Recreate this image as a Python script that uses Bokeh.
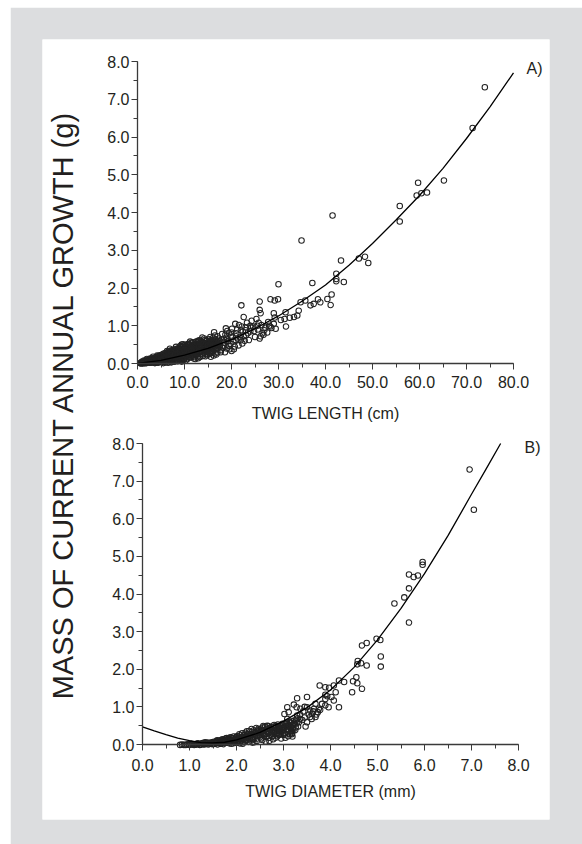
import math
from bokeh.plotting import figure
from bokeh.models import Range1d, LinearAxis, SingleIntervalTicker, PrintfTickFormatter, Label
from bokeh.embed import file_html
from bokeh.resources import INLINE

# ---------------- DATA ----------------
# Panel A: twig length (cm) vs mass of current annual growth (g)
a_len = [
    0.6, 0.8, 1.0, 1.1, 1.3, 1.5, 1.6, 1.8, 2.0, 2.1, 2.3, 2.5, 2.6, 2.8, 3.0, 3.0, 2.2, 1.7, 2.7, 3.2,
    3.3, 3.5, 3.6, 3.8, 4.0, 4.1, 4.3, 4.5, 4.6, 4.8, 5.0, 5.1, 5.3, 5.5, 5.6, 5.8, 6.0, 3.4, 3.9, 4.4, 4.9, 5.4, 5.9, 4.2, 5.2,
    6.1, 6.2, 6.4, 6.5, 6.7, 6.8, 7.0, 7.1, 7.3, 7.4, 7.6, 7.8, 8.0, 8.1, 8.3, 8.5, 8.6, 8.8, 9.0, 6.3, 6.9, 7.5, 8.2, 8.9, 7.2, 6.6, 8.4, 9.1,
    9.2, 9.3, 9.5, 9.6, 9.8, 10.0, 10.1, 10.3, 10.4, 10.6, 10.8, 11.0, 11.1, 11.3, 11.5, 11.6, 11.8, 12.0, 9.4, 9.9, 10.5, 11.2, 11.9, 10.2, 10.9, 11.7, 9.7, 12.1,
    12.2, 12.4, 12.5, 12.7, 12.9, 13.0, 13.2, 13.4, 13.5, 13.7, 13.9, 14.0, 14.2, 14.4, 14.5, 14.7, 14.9, 15.0, 12.6, 13.3, 13.8, 14.3, 14.8, 12.3, 13.1, 14.6,
    15.2, 15.4, 15.5, 15.7, 15.9, 16.0, 16.2, 16.4, 16.5, 16.7, 16.9, 17.0, 17.3, 17.5, 17.8, 18.0, 15.6, 16.3, 16.8, 17.2, 17.6, 18.2,
    18.4, 18.6, 18.9, 19.1, 19.4, 19.6, 19.9, 20.1, 20.4, 20.7, 21.0, 21.3, 21.6, 22.0, 22.3, 22.6, 23.0, 23.3, 23.7, 24.0, 18.8, 19.3, 20.0, 20.8, 21.5, 22.2, 23.1, 24.3,
    24.6, 25.0, 25.3, 25.6, 26.0, 26.4, 26.8, 27.2, 27.6, 28.0, 28.5, 29.0, 29.4, 25.8, 26.2, 27.0, 28.3, 24.8, 25.5, 26.6, 27.8, 29.2, 30.5,
    73.9, 71.3, 59.7, 65.2, 59.4, 60.4, 61.6, 55.8, 55.8, 41.5, 34.9, 43.3, 47.1, 48.4, 49.1, 42.3, 42.3, 42.3, 43.9, 37.2,
    30.0, 22.1, 26.0, 28.3, 29.2, 29.9, 26.0, 26.2, 29.0, 31.5, 31.3, 31.6, 32.4, 33.3, 34.0, 34.3, 34.7, 35.7, 36.8, 37.5,
    38.4, 38.9, 40.4, 41.3, 41.1, 22.6,
]
a_mass = [
    0.01, 0.02, 0.01, 0.03, 0.02, 0.04, 0.01, 0.05, 0.03, 0.07, 0.05, 0.02, 0.09, 0.06, 0.04, 0.11, 0.10, 0.07, 0.13, 0.08,
    0.03, 0.12, 0.07, 0.16, 0.05, 0.10, 0.19, 0.08, 0.14, 0.22, 0.04, 0.12, 0.17, 0.26, 0.09, 0.20, 0.14, 0.09, 0.02, 0.04, 0.07, 0.04, 0.28, 0.15, 0.23,
    0.06, 0.22, 0.11, 0.31, 0.17, 0.05, 0.26, 0.13, 0.35, 0.08, 0.20, 0.30, 0.12, 0.38, 0.22, 0.07, 0.28, 0.41, 0.17, 0.33, 0.39, 0.27, 0.44, 0.10, 0.03, 0.25, 0.34, 0.46,
    0.24, 0.37, 0.13, 0.44, 0.30, 0.20, 0.49, 0.08, 0.35, 0.26, 0.52, 0.15, 0.41, 0.31, 0.55, 0.22, 0.45, 0.36, 0.05, 0.12, 0.43, 0.58, 0.18, 0.29, 0.34, 0.50, 0.51, 0.27,
    0.48, 0.21, 0.58, 0.39, 0.14, 0.52, 0.30, 0.62, 0.44, 0.24, 0.56, 0.35, 0.66, 0.19, 0.47, 0.60, 0.30, 0.41, 0.31, 0.17, 0.69, 0.53, 0.22, 0.12, 0.61, 0.38,
    0.55, 0.26, 0.70, 0.46, 0.33, 0.62, 0.21, 0.52, 0.74, 0.38, 0.58, 0.29, 0.66, 0.45, 0.35, 0.78, 0.18, 0.83, 0.24, 0.50, 0.60, 0.42,
    0.55, 0.30, 0.68, 0.86, 0.47, 0.38, 0.74, 0.92, 0.58, 0.45, 0.80, 0.66, 1.02, 0.88, 0.53, 0.72, 0.96, 1.08, 0.62, 0.85, 0.93, 0.60, 0.33, 1.05, 0.48, 0.98, 0.75, 1.13,
    0.98, 0.70, 1.18, 0.90, 0.66, 1.02, 0.76, 0.95, 0.82, 1.00, 0.94, 1.05, 0.92, 1.08, 0.72, 0.88, 0.98, 0.86, 1.00, 0.80, 1.10, 1.22, 1.15,
    7.32, 6.24, 4.79, 4.85, 4.45, 4.51, 4.53, 4.17, 3.76, 3.92, 3.26, 2.73, 2.78, 2.83, 2.66, 2.38, 2.24, 2.18, 2.16, 2.13,
    2.10, 1.54, 1.64, 1.70, 1.67, 1.70, 1.42, 1.33, 1.33, 1.36, 1.18, 0.98, 1.21, 1.23, 1.27, 1.40, 1.62, 1.67, 1.54, 1.58,
    1.70, 1.62, 1.71, 1.83, 1.55, 1.23,
]
# more twigs in the dense cloud of panel A
a_len2 = [
    0.7, 0.9, 1.2, 1.4, 1.9, 2.4, 2.9, 3.1, 3.7, 3.7, 2.0, 1.4, 2.6, 3.3,
    4.1, 4.2, 4.5, 4.7, 4.8, 5.0, 5.2, 5.4, 5.5, 5.7, 5.8, 6.0, 6.0, 6.2, 6.4, 6.5, 6.6, 6.8, 6.9, 7.0, 7.1, 7.3, 7.4, 7.6, 7.7, 7.8, 7.9, 8.0,
    8.1, 8.2, 8.4, 8.5, 8.7, 8.8, 8.9, 9.0, 9.1, 9.3, 9.4, 9.5, 9.7, 9.8, 9.9, 10.0, 10.2, 10.3, 10.5, 10.6, 10.7, 10.9, 11.0, 11.1, 11.3, 11.4, 11.5, 11.7, 11.8, 11.9, 12.0,
    12.1, 12.3, 12.4, 12.6, 12.8, 12.9, 13.0, 13.2, 13.3, 13.5, 13.6, 13.8, 13.9, 14.1, 14.2, 14.4, 14.5, 14.7, 14.8, 15.0, 15.1, 15.3, 15.4, 15.6, 15.8, 16.0, 16.1, 16.3, 16.5, 16.6, 16.8, 17.0, 17.1, 17.4, 17.7, 17.9,
    18.3, 18.7, 19.0, 19.2, 19.5, 19.8, 20.2, 20.5, 20.9, 21.2, 21.8, 22.4, 22.8, 23.5, 24.2,
]
a_mass2 = [
    0.0, 0.03, 0.0, 0.05, 0.01, 0.08, 0.02, 0.14, 0.01, 0.13, 0.12, 0.08, 0.04, 0.18,
    0.03, 0.21, 0.17, 0.06, 0.11, 0.18, 0.08, 0.15, 0.01, 0.24, 0.12, 0.03, 0.25, 0.16, 0.28, 0.02, 0.19, 0.34, 0.14, 0.08, 0.22, 0.17, 0.29, 0.10, 0.37, 0.24, 0.05, 0.33,
    0.19, 0.09, 0.26, 0.40, 0.14, 0.31, 0.23, 0.38, 0.11, 0.29, 0.45, 0.20, 0.35, 0.09, 0.42, 0.28, 0.16, 0.46, 0.33, 0.12, 0.40, 0.22, 0.50, 0.29, 0.17, 0.44, 0.36, 0.24, 0.56, 0.41, 0.13,
    0.33, 0.52, 0.27, 0.45, 0.19, 0.60, 0.37, 0.48, 0.25, 0.57, 0.33, 0.43, 0.20, 0.50, 0.28, 0.62, 0.37, 0.46, 0.25, 0.55, 0.34, 0.64, 0.42, 0.51, 0.28, 0.46, 0.68, 0.36, 0.57, 0.27, 0.48, 0.72, 0.40, 0.55, 0.30, 0.63,
    0.47, 0.76, 0.40, 0.58, 0.80, 0.52, 0.70, 0.38, 0.62, 0.90, 0.70, 0.85, 0.60, 0.80, 0.95,
]
a_len3 = [
    1.0, 1.6, 2.2, 2.7, 3.4, 3.9, 4.4, 4.9, 5.3, 5.6, 5.9, 6.3, 6.7, 7.0, 7.2, 7.5, 7.8, 8.2, 8.6, 8.9,
    9.2, 9.5, 9.8, 10.1, 10.4, 10.7, 11.0, 11.2, 11.5, 11.8, 12.1, 12.4, 12.7, 13.0, 13.3, 13.6, 13.9, 14.2, 14.5, 14.8,
    15.1, 15.4, 15.7, 16.0, 16.3, 16.6, 16.9, 17.2, 17.5, 5.0, 6.2, 7.4, 8.6, 9.8, 11.0, 12.2, 13.4, 14.6, 15.8, 17.0,
    4.6, 5.8, 7.0, 8.2, 9.4, 10.6, 11.8, 13.0, 14.2, 15.4, 16.6, 19.0, 20.0, 21.0, 22.0, 23.0, 24.0,
]
a_mass3 = [
    0.05, 0.02, 0.04, 0.11, 0.06, 0.09, 0.02, 0.16, 0.10, 0.19, 0.07, 0.23, 0.10, 0.18, 0.30, 0.14, 0.21, 0.32, 0.18, 0.25,
    0.34, 0.10, 0.26, 0.38, 0.21, 0.31, 0.42, 0.26, 0.19, 0.33, 0.46, 0.22, 0.35, 0.28, 0.54, 0.40, 0.30, 0.44, 0.52, 0.35,
    0.47, 0.58, 0.36, 0.52, 0.45, 0.64, 0.40, 0.60, 0.50, 0.12, 0.08, 0.05, 0.06, 0.16, 0.25, 0.40, 0.43, 0.32, 0.60, 0.52,
    0.20, 0.18, 0.32, 0.36, 0.50, 0.50, 0.30, 0.47, 0.40, 0.30, 0.40, 0.65, 0.82, 0.72, 0.62, 0.88, 1.00,
]
a_len4 = [
    2.5, 3.6, 4.3, 5.1, 5.7, 6.4, 7.1, 7.7, 8.3, 8.8, 9.3, 9.9, 10.4, 10.9, 11.4, 11.9, 12.5, 13.1, 13.6, 14.1,
    14.6, 15.2, 15.7, 16.2, 3.0, 4.0, 5.0, 6.0, 7.0, 8.0, 9.0, 10.0, 11.0, 12.0, 13.0, 14.0, 15.0, 16.0,
]
a_mass4 = [
    0.06, 0.10, 0.13, 0.20, 0.16, 0.21, 0.29, 0.19, 0.27, 0.36, 0.23, 0.33, 0.28, 0.37, 0.31, 0.27, 0.40, 0.45, 0.48, 0.38,
    0.55, 0.43, 0.62, 0.55, 0.07, 0.08, 0.10, 0.18, 0.12, 0.25, 0.30, 0.36, 0.33, 0.45, 0.43, 0.52, 0.48, 0.58,
]
# fitted curve, panel A
a_fit_len = [0, 5, 10, 15, 20, 25, 30, 35, 40, 45, 50, 55, 60, 65, 70, 75, 80]
a_fit_mass = [0.0, 0.08, 0.22, 0.40, 0.63, 0.92, 1.26, 1.65, 2.08, 2.60, 3.18, 3.80, 4.45, 5.17, 5.96, 6.80, 7.70]

# Panel B: twig diameter (mm) vs mass of current annual growth (g)
b_dia = [
    0.80, 0.88, 0.95, 1.00, 1.05, 1.10, 1.15, 1.20, 1.25, 1.30, 1.35, 1.40, 1.45, 1.50, 1.02, 1.18, 1.28, 1.38, 1.48, 1.12, 1.33,
    1.52, 1.55, 1.58, 1.62, 1.65, 1.68, 1.72, 1.75, 1.78, 1.82, 1.85, 1.88, 1.92, 1.95, 1.98, 2.00, 1.60, 1.70, 1.80, 1.90, 1.57, 1.67, 1.77, 1.87, 1.97,
    2.02, 2.05, 2.08, 2.10, 2.13, 2.16, 2.20, 2.23, 2.26, 2.30, 2.33, 2.36, 2.40, 2.43, 2.46, 2.50, 2.04, 2.12, 2.18, 2.25, 2.32, 2.38, 2.45, 2.07, 2.15, 2.22, 2.28, 2.35, 2.42, 2.48,
    2.52, 2.55, 2.58, 2.61, 2.64, 2.67, 2.70, 2.73, 2.76, 2.80, 2.83, 2.86, 2.90, 2.93, 2.96, 3.00, 2.54, 2.62, 2.68, 2.75, 2.82, 2.88, 2.95, 2.57, 2.66, 2.72, 2.78, 2.85, 2.92, 2.98,
    3.02, 3.05, 3.08, 3.10, 3.13, 3.16, 3.20, 3.23, 3.26, 3.04, 3.12, 3.18, 3.25, 3.30, 3.06, 3.15,
    3.08, 3.22, 3.28, 3.36, 3.50, 3.57, 3.65, 3.68, 3.73, 3.57, 3.50, 3.36, 3.29, 3.22, 3.15, 3.08, 3.02, 3.11, 3.18, 3.19,
    3.47, 3.61, 3.68, 3.75, 3.82, 3.89, 3.50, 3.29,
    4.55, 4.48, 4.57, 4.67, 4.46, 4.29, 4.18, 3.97, 4.07, 4.11, 4.02, 4.07, 4.18, 3.89, 3.89, 3.93, 3.89, 3.96, 3.77,
    6.96, 7.05, 5.96, 5.96, 5.67, 5.77, 5.86, 5.67, 5.57, 5.36, 5.67, 4.67, 4.77, 4.98, 5.06, 5.07, 5.07, 4.58, 4.65, 4.77, 4.57,
]
b_mass = [
    -0.01, -0.01, 0.0, -0.01, 0.01, -0.01, 0.0, 0.02, 0.0, 0.01, 0.03, 0.0, 0.02, 0.04, 0.02, 0.03, 0.04, 0.05, 0.01, 0.0, 0.06,
    0.07, 0.02, 0.09, 0.04, 0.11, 0.06, 0.01, 0.12, 0.08, 0.15, 0.03, 0.10, 0.17, 0.06, 0.13, 0.20, 0.0, 0.14, 0.05, 0.02, 0.05, 0.03, 0.16, 0.19, 0.09,
    0.05, 0.16, 0.24, 0.10, 0.02, 0.20, 0.13, 0.28, 0.07, 0.22, 0.33, 0.15, 0.26, 0.09, 0.38, 0.19, 0.11, 0.30, 0.08, 0.17, 0.41, 0.06, 0.29, 0.03, 0.14, 0.35, 0.24, 0.12, 0.44, 0.32,
    0.42, 0.12, 0.27, 0.48, 0.20, 0.36, 0.10, 0.46, 0.30, 0.52, 0.18, 0.40, 0.25, 0.50, 0.34, 0.44, 0.35, 0.08, 0.49, 0.22, 0.38, 0.53, 0.16, 0.49, 0.32, 0.40, 0.14, 0.28, 0.44, 0.26,
    0.30, 0.56, 0.42, 0.22, 0.60, 0.36, 0.52, 0.64, 0.45, 0.18, 0.48, 0.27, 0.38, 0.70, 0.50, 0.58,
    0.99, 1.06, 0.99, 0.95, 0.99, 0.90, 0.95, 1.08, 0.86, 0.73, 0.59, 0.68, 0.77, 0.55, 0.46, 0.68, 0.81, 0.86, 0.30, 0.21,
    0.48, 0.81, 0.73, 0.95, 1.08, 1.21, 1.26, 1.23,
    1.79, 1.68, 1.63, 1.48, 1.39, 1.66, 1.70, 1.51, 1.57, 1.39, 1.26, 1.17, 0.99, 1.52, 1.32, 1.28, 1.04, 0.99, 1.57,
    7.31, 6.24, 4.85, 4.78, 4.52, 4.45, 4.49, 4.15, 3.91, 3.75, 3.24, 2.63, 2.70, 2.81, 2.78, 2.34, 2.07, 2.22, 2.16, 2.10, 2.13,
]
# more twigs in the dense cloud of panel B
b_dia2 = [
    0.84, 0.92, 0.98, 1.07, 1.16, 1.22, 1.27, 1.32, 1.36, 1.42, 1.47,
    1.51, 1.54, 1.59, 1.63, 1.66, 1.69, 1.73, 1.76, 1.79, 1.81, 1.84, 1.86, 1.89, 1.91, 1.94, 1.96, 1.99,
    2.01, 2.03, 2.06, 2.09, 2.11, 2.14, 2.17, 2.19, 2.21, 2.24, 2.27, 2.29, 2.31, 2.34, 2.37, 2.39, 2.41, 2.44, 2.47, 2.49,
    2.51, 2.53, 2.56, 2.59, 2.60, 2.63, 2.65, 2.69, 2.71, 2.74, 2.77, 2.79, 2.81, 2.84, 2.87, 2.89, 2.91, 2.94, 2.97, 2.99,
    3.01, 3.03, 3.07, 3.09, 3.11, 3.14, 3.17, 3.19, 3.21, 3.24, 3.27, 3.31, 3.33, 3.35, 3.40, 3.42, 3.45, 3.54, 3.60, 3.63, 3.70, 3.78, 3.45,
]
b_mass2 = [
    0.0, -0.01, 0.01, 0.0, 0.02, -0.01, 0.03, 0.0, 0.02, 0.04, 0.06,
    0.01, 0.05, 0.11, 0.07, 0.02, 0.10, 0.13, 0.04, 0.17, 0.09, 0.13, 0.06, 0.18, 0.11, 0.21, 0.04, 0.16,
    0.22, 0.09, 0.27, 0.14, 0.20, 0.06, 0.25, 0.31, 0.10, 0.21, 0.36, 0.14, 0.28, 0.05, 0.38, 0.21, 0.31, 0.16, 0.42, 0.25,
    0.33, 0.16, 0.45, 0.22, 0.38, 0.28, 0.50, 0.18, 0.44, 0.33, 0.22, 0.47, 0.30, 0.50, 0.22, 0.46, 0.35, 0.28, 0.52, 0.38,
    0.46, 0.26, 0.58, 0.33, 0.40, 0.28, 0.46, 0.62, 0.38, 0.55, 0.66, 0.48, 0.60, 0.80, 0.65, 0.88, 0.72, 0.80, 0.68, 0.88, 0.80, 0.92, 1.00,
]
b_dia3 = [
    1.14, 1.24, 1.34, 1.44, 1.53, 1.61, 1.71, 1.83, 1.93, 2.03, 2.11, 2.19, 2.26, 2.33, 2.40, 2.46, 2.53, 2.59, 2.66, 2.72,
    2.79, 2.85, 2.92, 2.99, 3.05, 3.12, 3.20, 1.78, 1.88, 1.98, 2.08, 2.18, 2.28, 2.38, 2.48, 2.58, 2.68, 2.78, 2.88, 2.98,
    3.08, 3.18, 3.28,
]
b_mass3 = [
    0.01, 0.0, 0.03, 0.02, 0.03, 0.06, 0.08, 0.11, 0.08, 0.18, 0.12, 0.22, 0.27, 0.19, 0.33, 0.23, 0.38, 0.31, 0.42, 0.26,
    0.35, 0.45, 0.38, 0.48, 0.40, 0.52, 0.44, 0.10, 0.14, 0.09, 0.18, 0.16, 0.25, 0.29, 0.36, 0.24, 0.30, 0.40, 0.32, 0.55,
    0.50, 0.35, 0.56,
]
# fitted curve, panel B
b_fit_dia = [0.0, 0.25, 0.5, 0.75, 1.0, 1.25, 1.5, 1.75, 2.0, 2.5, 3.0, 3.5, 4.0, 4.5, 5.0, 5.5, 6.0, 6.5, 7.0, 7.3, 7.62]
b_fit_mass = [0.47, 0.36, 0.26, 0.17, 0.10, 0.05, 0.04, 0.06, 0.12, 0.32, 0.62, 0.98, 1.45, 2.05, 2.78, 3.62, 4.54, 5.55, 6.65, 7.30, 8.0]

y_title = "MASS OF CURRENT ANNUAL GROWTH (g)"
a_xtitle = "TWIG LENGTH (cm)"
b_xtitle = "TWIG DIAMETER (mm)"

assert len(a_len) == len(a_mass) and len(a_len2) == len(a_mass2)
assert len(a_len3) == len(a_mass3) and len(a_len4) == len(a_mass4)
assert len(b_dia) == len(b_mass) and len(b_dia2) == len(b_mass2) and len(b_dia3) == len(b_mass3)

# ---------------- LAYOUT ----------------
OX, OY = 10, 7                 # page offset of the gray card
W, H = 582 - OX, 844 - OY
FL, FT, FW, FH = 32, 32, 507, 780   # white panel (= frame) inside the card
GRAY = "#dcdddf"
INK = "#231f20"
FONT = "Liberation Sans"

# page-pixel anchors of the two coordinate systems
A_X0, A_PXU = 137, 4.7
A_Y0, A_PYU = 363, 37.75
B_X0, B_PXU = 142, 47.0
B_Y0, B_PYU = 744, 37.625

fx0 = OX + FL
fy0 = OY + FT


def xr(x0, pu):
    s = (fx0 - x0) / pu
    return Range1d(s, s + FW / pu)


def yr(y0, pu):
    top = (y0 - fy0) / pu
    return Range1d(top - FH / pu, top)


p = figure(width=W, height=H, output_backend="svg", toolbar_location=None,
           x_axis_location=None, y_axis_location=None,
           x_range=xr(A_X0, A_PXU), y_range=yr(A_Y0, A_PYU),
           min_border_left=FL, min_border_top=FT,
           min_border_right=W - FL - FW, min_border_bottom=H - FT - FH,
           margin=(OY, 0, 0, OX))
p.extra_x_ranges = {"xb": xr(B_X0, B_PXU)}
p.extra_y_ranges = {"yb": yr(B_Y0, B_PYU)}
p.border_fill_color = GRAY
p.background_fill_color = "white"
p.outline_line_color = None
p.grid.visible = False


def style_axis(ax):
    ax.axis_line_color = "#3a3a3a"
    ax.axis_line_width = 1.3
    ax.major_tick_line_color = "#3a3a3a"
    ax.minor_tick_line_color = "#3a3a3a"
    ax.major_tick_out = 6
    ax.major_tick_in = 0
    ax.minor_tick_out = 4
    ax.minor_tick_in = 0
    ax.major_label_text_font = FONT
    ax.major_label_text_font_size = "16px"
    ax.major_label_text_color = INK
    ax.axis_label_text_font = FONT
    ax.axis_label_text_font_size = "16px"
    ax.axis_label_text_font_style = "normal"
    ax.axis_label_text_color = INK
    ax.formatter = PrintfTickFormatter(format="%.1f")


def add_axes(xname, yname, xint, xmax, xlabel, lab_off, title_off):
    xa = LinearAxis(x_range_name=xname, y_range_name=yname, fixed_location=0,
                    bounds=(0, xmax), ticker=SingleIntervalTicker(interval=xint, num_minor_ticks=2),
                    axis_label=xlabel)
    style_axis(xa)
    xa.major_label_standoff = lab_off
    xa.axis_label_standoff = title_off
    p.add_layout(xa, "below")
    ya = LinearAxis(x_range_name=xname, y_range_name=yname, fixed_location=0,
                    bounds=(0, 8), ticker=SingleIntervalTicker(interval=1, num_minor_ticks=2))
    style_axis(ya)
    ya.major_label_standoff = 2
    p.add_layout(ya, "left")


add_axes("default", "default", 10, 80, a_xtitle, 6, 14)
add_axes("xb", "yb", 1, 8, b_xtitle, 8, 9)

MK = dict(marker="circle", size=5.5, fill_color=None, line_color="#222222", line_width=1.05)

for xs, ys in ((a_len, a_mass), (a_len2, a_mass2), (a_len3, a_mass3), (a_len4, a_mass4)):
    p.scatter(xs, ys, **MK)
p.line(a_fit_len, a_fit_mass, line_color="black", line_width=1.3)

for xs, ys in ((b_dia, b_mass), (b_dia2, b_mass2), (b_dia3, b_mass3)):
    p.scatter(xs, ys, x_range_name="xb", y_range_name="yb", **MK)
p.line(b_fit_dia, b_fit_mass, line_color="black", line_width=1.3,
       x_range_name="xb", y_range_name="yb")

# panel tags
p.add_layout(Label(x=(526 - A_X0) / A_PXU, y=(A_Y0 - 68) / A_PYU, text="A)",
                   text_font=FONT, text_font_size="16px", text_color=INK,
                   text_baseline="middle", text_align="left"))
p.add_layout(Label(x=(524 - B_X0) / B_PXU, y=(B_Y0 - 446.5) / B_PYU, text="B)",
                   x_range_name="xb", y_range_name="yb",
                   text_font=FONT, text_font_size="16px", text_color=INK,
                   text_baseline="middle", text_align="left"))
# shared y title
p.add_layout(Label(x=(62 - A_X0) / A_PXU, y=(A_Y0 - 404) / A_PYU, text=y_title,
                   angle=math.pi / 2, text_font=FONT, text_font_size="29px",
                   text_color=INK, text_align="center", text_baseline="middle"))

open("out.html", "w").write(file_html(p, INLINE))
